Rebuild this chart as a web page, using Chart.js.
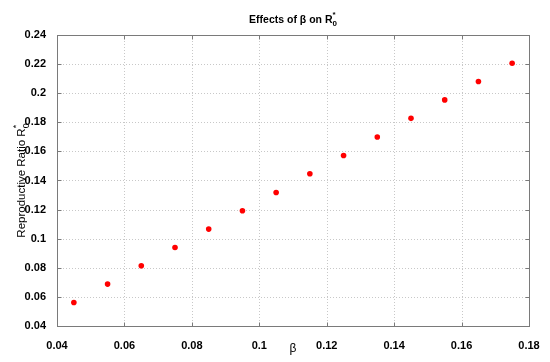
<!DOCTYPE html>
<html>
<head>
<meta charset="utf-8">
<script src="https://cdn.jsdelivr.net/npm/chart.js@4/dist/chart.umd.min.js"></script>
<style>
  html, body { margin: 0; padding: 0; background: #fff; }
  #wrap { width: 550px; height: 362px; }
</style>
</head>
<body>
<div id="wrap"><canvas id="betaChart"></canvas></div>
<script>
// beta values (x) and reproductive ratio R0* (y)
const betaValues = [0.045, 0.055, 0.065, 0.075, 0.085, 0.095, 0.105, 0.115, 0.125, 0.135, 0.145, 0.155, 0.165, 0.175];
const r0Values = [0.0562, 0.0688, 0.0814, 0.0940, 0.1066, 0.1192, 0.1318, 0.1446, 0.1572, 0.1699, 0.1827, 0.1954, 0.2080, 0.2206];
const xTicks = [0.04, 0.06, 0.08, 0.1, 0.12, 0.14, 0.16, 0.18];
const yTicks = [0.04, 0.06, 0.08, 0.1, 0.12, 0.14, 0.16, 0.18, 0.2, 0.22, 0.24];
const titleText = 'Effects of β on R';
const yLabelText = 'Reproductive Ratio R';

const fontFamily = '"Liberation Sans", Arial, Helvetica, sans-serif';

// text followed by a subscript 0 with a * stacked above it (R_0^*)
function drawR0Text(ctx, main, cx, cy, size, weight) {
    const mainFont = weight + ' ' + size + 'px ' + fontFamily;
    const smallFont = weight + ' ' + Math.round(size * 0.75) + 'px ' + fontFamily;
    ctx.font = mainFont;
    const wMain = ctx.measureText(main).width;
    ctx.font = smallFont;
    const wSmall = Math.max(ctx.measureText('0').width, ctx.measureText('*').width);
    const x0 = cx - (wMain + wSmall) / 2;
    const base = cy + size * 0.36;
    ctx.fillStyle = '#000';
    ctx.textAlign = 'left';
    ctx.textBaseline = 'alphabetic';
    ctx.font = mainFont;
    ctx.fillText(main, x0, base);
    ctx.font = smallFont;
    ctx.fillText('0', x0 + wMain, base + size * 0.3);
    ctx.fillText('*', x0 + wMain, base - size * 0.55);
}

// dotted grid, matlab style box with inward ticks, title and y label
const matlabAxes = {
    id: 'matlabAxes',
    beforeDatasetsDraw(chart) {
        const { ctx, chartArea: a, scales } = chart;
        ctx.save();
        ctx.strokeStyle = '#c8c8c8';
        ctx.lineWidth = 1;
        ctx.setLineDash([1, 2]);
        ctx.beginPath();
        xTicks.slice(1, -1).forEach(v => {
            const px = Math.round(scales.x.getPixelForValue(v)) + 0.5;
            ctx.moveTo(px, a.top); ctx.lineTo(px, a.bottom);
        });
        yTicks.slice(1, -1).forEach(v => {
            const py = Math.round(scales.y.getPixelForValue(v)) + 0.5;
            ctx.moveTo(a.left, py); ctx.lineTo(a.right, py);
        });
        ctx.stroke();
        ctx.restore();
    },
    afterDraw(chart) {
        const { ctx, chartArea: a, scales } = chart;
        ctx.save();
        ctx.setLineDash([]);
        ctx.strokeStyle = '#7a7a7a';
        ctx.lineWidth = 1;
        const l = Math.round(a.left) + 0.5, t = Math.round(a.top) + 0.5;
        const r = Math.round(a.right) + 0.5, b = Math.round(a.bottom) + 0.5;
        ctx.strokeRect(l, t, r - l, b - t);
        const len = 4;
        ctx.beginPath();
        xTicks.forEach(v => {
            const px = Math.round(scales.x.getPixelForValue(v)) + 0.5;
            ctx.moveTo(px, b); ctx.lineTo(px, b - len);
            ctx.moveTo(px, t); ctx.lineTo(px, t + len);
        });
        yTicks.forEach(v => {
            const py = Math.round(scales.y.getPixelForValue(v)) + 0.5;
            ctx.moveTo(l, py); ctx.lineTo(l + len, py);
            ctx.moveTo(r, py); ctx.lineTo(r - len, py);
        });
        ctx.stroke();
        ctx.beginPath();

        drawR0Text(ctx, titleText, (a.left + a.right) / 2, 19, 10.5, 'bold');

        ctx.translate(21, (a.top + a.bottom) / 2);
        ctx.rotate(-Math.PI / 2);
        drawR0Text(ctx, yLabelText, 0, 0, 11.5, 'normal');
        ctx.restore();
    }
};

const ctx = document.getElementById('betaChart').getContext('2d');
const betaChart = new Chart(ctx, {
    type: 'scatter',
    data: {
        datasets: [{
            label: 'R0*',
            data: betaValues.map((b, i) => ({ x: b, y: r0Values[i] })),
            backgroundColor: '#ff0000',
            borderColor: '#ff0000',
            borderWidth: 0,
            pointRadius: 2.8,
        }]
    },
    options: {
        responsive: true,
        maintainAspectRatio: false,
        animation: false,
        layout: { padding: { left: 0, right: 21, top: 35, bottom: 0 } },
        plugins: {
            legend: { display: false },
            tooltip: { enabled: false },
            title: { display: false },
        },
        scales: {
            x: {
                type: 'linear',
                min: 0.04,
                max: 0.18,
                afterBuildTicks: s => { s.ticks = xTicks.map(v => ({ value: v })); },
                afterFit: s => { s.height = 36; },
                ticks: {
                    color: '#000',
                    padding: 5,
                    maxRotation: 0,
                    font: { family: fontFamily, size: 11, weight: 'bold' },
                    callback: v => String(+v.toFixed(2)),
                },
                grid: { display: false },
                border: { display: false },
                title: {
                    display: true,
                    text: 'β',
                    color: '#000',
                    font: { family: fontFamily, size: 12 },
                    padding: { top: 0, bottom: 6 },
                },
            },
            y: {
                type: 'linear',
                min: 0.04,
                max: 0.24,
                afterBuildTicks: s => { s.ticks = yTicks.map(v => ({ value: v })); },
                afterFit: s => { s.width = 57; },
                ticks: {
                    color: '#000',
                    padding: 3,
                    font: { family: fontFamily, size: 11, weight: 'bold' },
                    callback: v => String(+v.toFixed(2)),
                },
                grid: { display: false },
                border: { display: false },
            },
        },
    },
    plugins: [matlabAxes],
});
</script>
</body>
</html>
